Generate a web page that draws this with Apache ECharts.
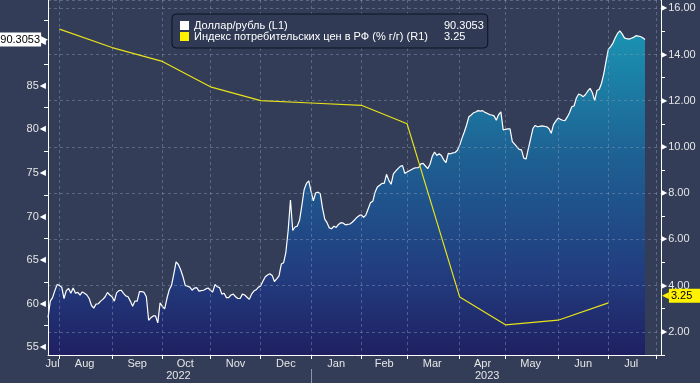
<!DOCTYPE html>
<html><head><meta charset="utf-8">
<script src="https://cdn.jsdelivr.net/npm/echarts@6/dist/echarts.min.js"></script>
<style>html,body{margin:0;padding:0;background:#333d58}#c{width:700px;height:383px}</style>
</head><body><div id="c"></div>
<script>
// ---- data ----
const startDate = '2022-07-25';
const endDate = '2023-08-03';
const monthNames = ['Jan','Feb','Mar','Apr','May','Jun','Jul','Aug','Sep','Oct','Nov','Dec'];
const usdRubName = 'Доллар/рубль (L1)';
const cpiName = 'Индекс потребительских цен в РФ (% г/г) (R1)';
// USD/RUB, one value per weekday starting 2022-07-25
const usdRub = [
58.4,60.3,60.7,61.5,62.2,62.1,61.9,60.6,61.5,61.75,
61.2,61.8,61.2,61.3,61.0,61.35,61.2,61.0,60.6,59.8,
59.5,59.95,60.0,60.3,60.5,60.8,61.3,61.0,60.8,60.3,
61.25,61.5,61.55,61.2,60.9,60.8,60.3,59.7,60.3,60.3,
61.4,61.4,61.3,60.8,58.1,58.4,58.6,58.6,57.8,60.1,
59.7,59.4,60.6,61.6,62.1,63.4,64.8,64.5,63.9,63.1,
62.1,62.0,61.9,61.55,61.8,61.85,61.45,61.5,61.55,61.7,
61.8,61.55,61.35,62.2,61.95,61.85,61.1,61.2,60.7,60.7,
61.0,61.1,60.8,60.6,60.6,61.1,61.0,60.75,60.5,61.1,
61.45,61.6,61.9,62.05,62.6,63.1,63.3,63.45,63.25,62.55,
62.85,63.2,64.55,64.7,65.9,68.4,71.9,68.4,68.8,68.9,
69.6,71.3,73.1,73.8,74.1,72.9,71.8,72.7,72.8,72.65,
71.0,69.7,69.3,68.7,68.6,68.9,68.75,69.1,69.3,69.25,
69.05,69.1,69.15,69.35,69.6,69.9,70.1,70.2,69.9,70.2,
70.9,71.6,71.75,72.8,73.4,73.6,73.8,73.8,74.85,74.15,
73.7,74.9,75.2,75.5,75.75,75.85,74.95,75.1,75.25,75.4,
75.55,75.6,75.6,76.05,76.1,75.8,75.5,76.0,76.9,77.4,
77.0,77.2,77.0,76.5,76.2,77.25,77.2,77.3,77.35,77.6,
78.2,79.0,79.7,80.5,81.45,81.65,81.9,82.0,82.15,82.1,
82.15,81.95,81.85,81.7,81.65,81.55,81.05,81.7,82.0,79.95,
80.0,80.05,80.05,78.6,78.3,78.0,77.7,77.65,76.7,76.6,
77.8,78.9,80.1,80.45,80.3,80.35,80.4,80.35,80.3,80.1,
79.55,80.55,80.95,81.3,81.15,81.05,81.0,81.4,81.9,82.6,
82.7,83.6,84.05,83.95,83.75,84.0,84.4,84.7,84.2,83.3,
84.45,84.6,85.3,86.4,87.85,89.2,89.5,89.9,90.5,91.0,
91.3,90.95,90.5,90.4,90.35,90.45,90.55,90.75,90.7,90.65,
90.5,90.3053
];
const cpiDates = ['2022-08-01','2022-09-01','2022-10-03','2022-11-01','2022-12-01','2023-01-02',
                  '2023-02-01','2023-03-01','2023-04-03','2023-05-01','2023-06-01','2023-07-03'];
const cpiValues = [15.1,14.3,13.7,12.6,12.0,11.9,11.8,11.0,3.5,2.3,2.5,3.25];
const usdLastLabel = '90.3053';
const cpiLastLabel = '3.25';

// ---- categories (weekdays) ----
const dates = [];
{
  let d = new Date(startDate + 'T00:00:00Z');
  const e = new Date(endDate + 'T00:00:00Z');
  while (d <= e) {
    const wd = d.getUTCDay();
    if (wd !== 0 && wd !== 6) dates.push(d.toISOString().slice(0, 10));
    d = new Date(d.getTime() + 86400000);
  }
}
function groups(keyFn) {
  const g = [];
  dates.forEach((s, i) => {
    const k = keyFn(s);
    if (!g.length || g[g.length - 1].k !== k) g.push({k, first: i, last: i});
    else g[g.length - 1].last = i;
  });
  return g;
}
const lastDataIdx = usdRub.length - 1;
const mG = groups(s => s.slice(0, 7)).filter(g => g.first <= lastDataIdx);
const yG = groups(s => s.slice(0, 4));
const monthStart = new Set(groups(s => s.slice(0, 7)).slice(1).map(g => g.first));
const monthMid = new Set(mG.map(g => Math.round((g.first + g.last) / 2)));
const yearStart = new Set(yG.slice(1).map(g => g.first));
const yearMid = new Set(yG.map(g => Math.round((g.first + g.last) / 2)));

const FONT = 'Liberation Sans';
const gridColor = 'rgba(140,155,185,0.45)';
const legendVals = {};
legendVals[usdRubName] = usdLastLabel;
legendVals[cpiName] = cpiLastLabel;

const chart = echarts.init(document.getElementById('c'), null, {renderer: 'canvas'});
chart.setOption({
  animation: false,
  backgroundColor: '#333d58',
  textStyle: {fontFamily: FONT},
  grid: {left: 48, right: 39, top: -1, bottom: 28, containLabel: false},
  legend: {
    orient: 'vertical', left: 172, top: 14,
    backgroundColor: '#303a55', borderColor: '#0d1220', borderWidth: 1, borderRadius: 4,
    padding: [6, 4, 6, 8], itemGap: 0, itemWidth: 9, itemHeight: 9, icon: 'rect',
    data: [usdRubName, cpiName],
    formatter: n => '{n|' + n + '}{v|' + legendVals[n] + '}',
    textStyle: {
      color: '#fff', fontSize: 11, fontFamily: FONT,
      rich: {
        n: {width: 250, color: '#fff', fontSize: 11, fontFamily: FONT, lineHeight: 13},
        v: {color: '#fff', fontSize: 11, fontFamily: FONT, lineHeight: 13}
      }
    }
  },
  xAxis: [{
    type: 'category', data: dates, boundaryGap: false, z: 3,
    axisLine: {show: true, lineStyle: {color: '#fff', width: 1}},
    axisTick: {show: true, length: 4, interval: i => monthStart.has(i), lineStyle: {color: '#fff'}},
    axisLabel: {interval: i => monthMid.has(i), margin: 3, color: '#e6e6e6', fontSize: 11, fontFamily: FONT,
      formatter: v => monthNames[+v.slice(5, 7) - 1]},
    splitLine: {show: true, interval: i => monthStart.has(i), lineStyle: {color: gridColor, type: [3, 3]}}
  }, {
    type: 'category', data: dates, boundaryGap: false, position: 'bottom', offset: 14,
    axisLine: {show: false},
    axisTick: {show: true, length: 14, interval: i => yearStart.has(i), lineStyle: {color: '#8a93a8'}},
    axisLabel: {interval: i => yearMid.has(i), margin: 1, color: '#e6e6e6', fontSize: 11, fontFamily: FONT,
      formatter: v => v.slice(0, 4)},
    splitLine: {show: false}
  }],
  yAxis: [{
    type: 'value', position: 'left', min: 54.12, max: 94.84, splitNumber: 8, z: 3,
    axisLine: {show: true, lineStyle: {color: '#fff'}},
    axisTick: {show: false},
    minorTick: {show: true, splitNumber: 2, length: 4, lineStyle: {color: '#fff'}},
    splitLine: {show: false},
    axisLabel: {
      showMinLabel: false, showMaxLabel: false, margin: 2, color: '#e6e6e6',
      formatter: v => '{v|' + v + '}{t|◀}',
      rich: {
        v: {color: '#e6e6e6', fontSize: 11, fontFamily: FONT, padding: [0, 1, 0, 0]},
        t: {color: '#fff', fontSize: 8, fontFamily: 'DejaVu Sans'}
      }
    }
  }, {
    type: 'value', position: 'right', min: 0.994, max: 16.358, splitNumber: 8, z: 3,
    axisLine: {show: true, lineStyle: {color: '#fff'}},
    axisTick: {show: false},
    minorTick: {show: true, splitNumber: 2, length: 4, lineStyle: {color: '#fff'}},
    splitLine: {show: true, lineStyle: {color: gridColor, type: [3, 3]}},
    axisLabel: {
      showMinLabel: false, showMaxLabel: false, margin: 0, color: '#e6e6e6',
      formatter: v => '{t|▶}{v|' + v.toFixed(2) + '}',
      rich: {
        v: {color: '#e6e6e6', fontSize: 11, fontFamily: FONT, padding: [0, 0, 0, 1]},
        t: {color: '#fff', fontSize: 8, fontFamily: 'DejaVu Sans'}
      }
    }
  }],
  series: [{
    name: usdRubName, type: 'line', xAxisIndex: 0, yAxisIndex: 0, data: usdRub,
    symbol: 'none', showSymbol: false, z: 2,
    itemStyle: {color: '#ffffff'},
    lineStyle: {color: '#ffffff', width: 1.2},
    areaStyle: {
      origin: 'start',
      color: new echarts.graphic.LinearGradient(0, 0, 0, 1, [
        {offset: 0, color: '#1a93b2'},
        {offset: 0.4, color: '#1e5f92'},
        {offset: 0.75, color: '#223d7f'},
        {offset: 1, color: '#1f2062'}
      ]),
      opacity: 1
    },
    markLine: {
      silent: true, symbol: 'none', z: 10,
      lineStyle: {color: 'rgba(0,0,0,0)', width: 1, type: 'solid'},
      data: [{yAxis: usdRub[usdRub.length - 1]}],
      label: {
        show: true, position: 'start', distance: 0,
        formatter: () => '{a|' + usdLastLabel + '}{b|▶}',
        rich: {
          a: {backgroundColor: '#ffffff', color: '#000', fontSize: 11, fontFamily: FONT, padding: [2, 1, 1, 2]},
          b: {color: '#ffffff', fontSize: 9, fontFamily: 'DejaVu Sans'}
        }
      }
    }
  }, {
    name: cpiName, type: 'line', xAxisIndex: 0, yAxisIndex: 1,
    data: cpiDates.map((d, i) => [d, cpiValues[i]]),
    symbol: 'none', showSymbol: false, z: 4,
    itemStyle: {color: '#fff200'},
    lineStyle: {color: '#e8e21a', width: 1.2},
    markLine: {
      silent: true, symbol: 'none', z: 10,
      lineStyle: {color: 'rgba(0,0,0,0)', width: 1, type: 'solid'},
      data: [{yAxis: cpiValues[cpiValues.length - 1]}],
      label: {
        show: true, position: 'end', distance: 1, offset: [0, -7],
        formatter: () => '{b|◀}{a|' + cpiLastLabel + '}',
        rich: {
          a: {backgroundColor: '#fff200', color: '#000', fontSize: 11, fontFamily: FONT, padding: [2, 12, 1, 2]},
          b: {color: '#fff200', fontSize: 9, fontFamily: 'DejaVu Sans'}
        }
      }
    }
  }]
});
</script></body></html>
